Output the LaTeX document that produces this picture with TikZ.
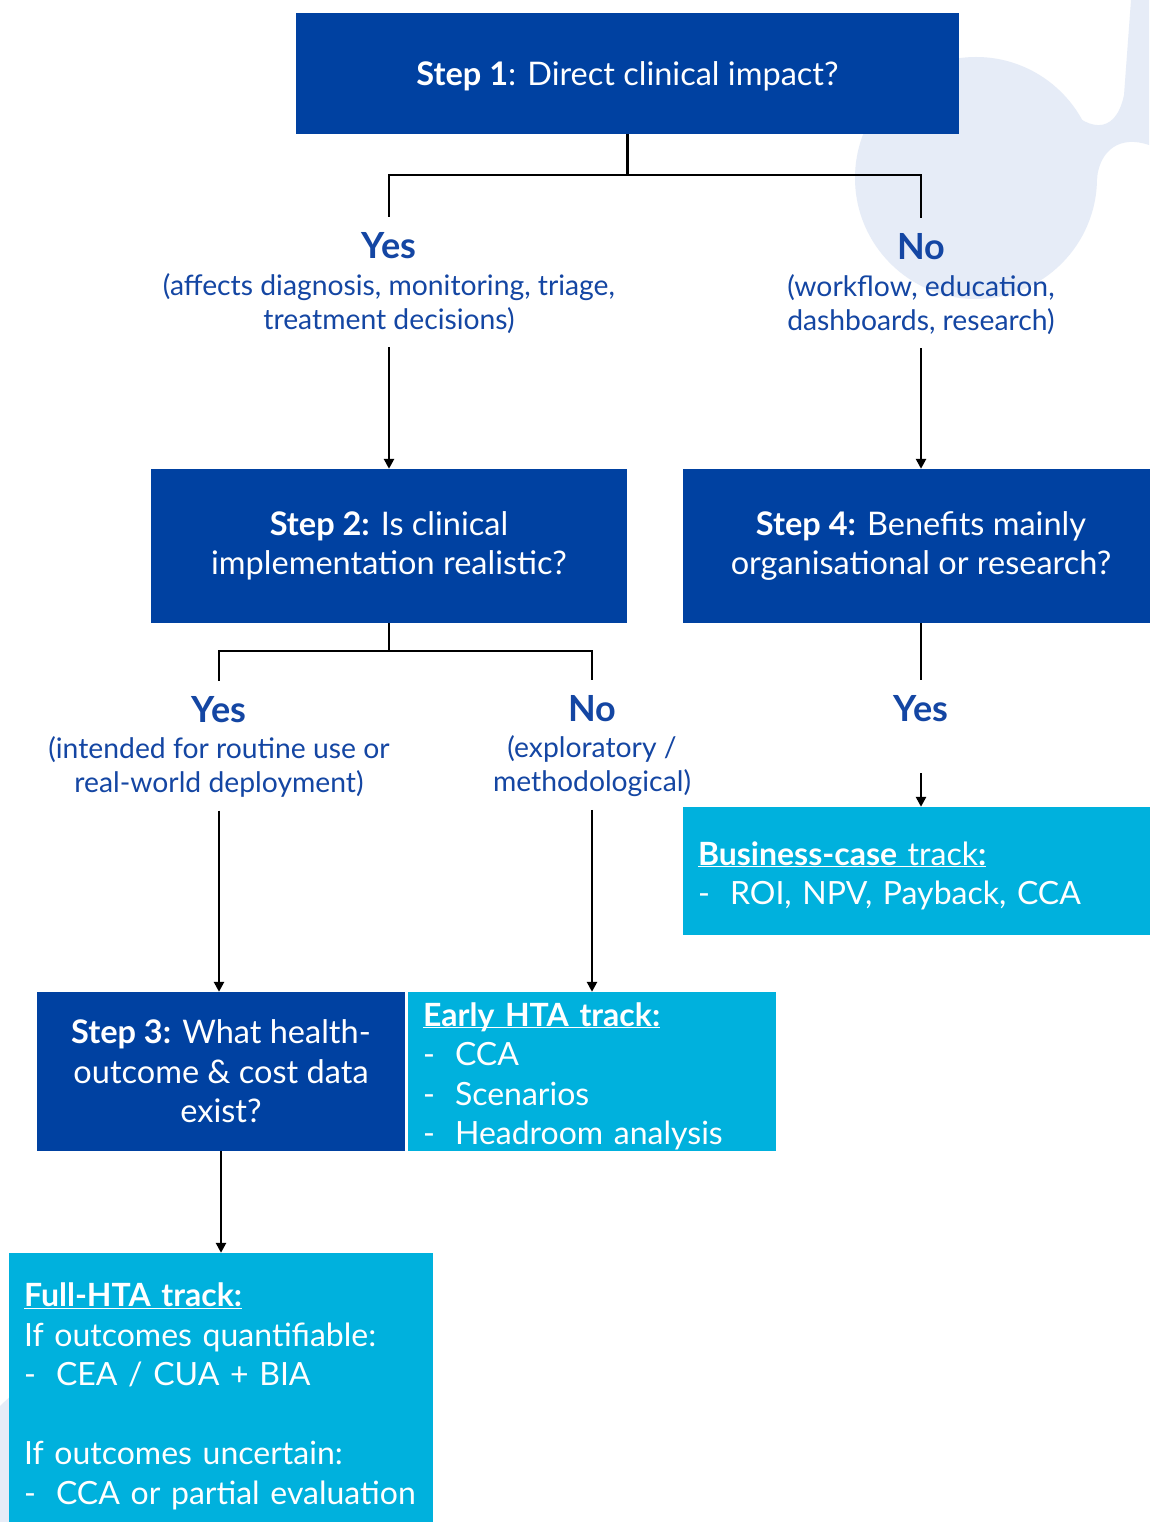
\documentclass[tikz,border=0pt]{standalone}
\usepackage{fontspec}
\setmainfont{Lato}
\usetikzlibrary{arrows.meta}
\definecolor{dblue}{HTML}{0041A1}
\definecolor{lblue}{HTML}{00B1DD}
\definecolor{tblue}{HTML}{1446A3}
\definecolor{bgc}{HTML}{E6ECF7}
\newcommand\myul[1]{\underline{\raisebox{0pt}[\height][0pt]{#1}}}
\newcommand\bul[1]{\makebox[32pt][l]{-}#1}
\newcommand\tallstrut{\rule{0pt}{33pt}}
\begin{document}
\begin{tikzpicture}[x=1pt,y=-1pt,
  dbox/.style={fill=dblue,text=white,align=center,inner sep=0pt,font=\fontsize{32.5}{39.5}\selectfont},
  lbox/.style={fill=lblue,text=white,align=left,inner xsep=15pt,inner ysep=0pt,font=\fontsize{32}{39.5}\selectfont},
  ttl/.style={text=tblue,font=\bfseries\fontsize{36}{40}\selectfont,inner xsep=0pt,inner ysep=16pt},
  dsc/.style={text=tblue,align=center,font=\fontsize{28.3}{34}\selectfont,inner xsep=0pt,inner ysep=13pt},
  ln/.style={line width=2.5pt,black,line join=miter},
  arr/.style={ln,-{Triangle[length=10pt,width=10pt]}}]
\useasboundingbox (0,0) rectangle (1149,1522);
\fill[white] (0,0) rectangle (1149,1522);
% background decoration
\fill[bgc] (976,178) circle (121);
\fill[bgc] (1131,0) -- (1149,0) -- (1149,145) .. controls (1120,135) and (1100,150) .. (1097,178)
  -- (1000,150) -- (1062,102) .. controls (1085,130) and (1115,138) .. (1124,95) -- cycle;
\fill[bgc] (150,1560) circle (215);

% boxes
\node[dbox,minimum width=663pt,minimum height=121pt] (s1) at (627.5,73.5)
  {\rule{0pt}{30pt}\textbf{Step 1}: Direct clinical impact?};
\node[dbox,minimum width=476pt,minimum height=154pt] (s2) at (389,546)
  {\textbf{Step 2:} Is clinical\\implementation realistic?};
\node[dbox,minimum width=476pt,minimum height=154pt] (s4) at (921,546)
  {\textbf{Step 4:} Benefits mainly\\organisational or research?};
\node[dbox,minimum width=368pt,minimum height=159pt] (s3) at (221,1071.5)
  {\textbf{Step 3:} What health-\\outcome \& cost data\\exist?};
\node[lbox,text width=446pt,minimum height=128pt] (bc) at (921,871)
  {\tallstrut\myul{\textbf{Business-case} track\textbf{:}}\\\bul{ROI, NPV, Payback, CCA}};
\node[lbox,text width=338pt,minimum height=159pt] (early) at (592,1071.5)
  {\tallstrut\myul{\textbf{Early HTA track:}}\\\bul{CCA}\\\bul{Scenarios}\\\bul{Headroom analysis}};
\node[lbox,text width=394pt,minimum height=277pt] (full) at (221,1391.5)
  {\tallstrut\myul{\textbf{Full-HTA track:}}\\If outcomes quantifiable:\\\bul{CEA / CUA + BIA}\\[39.5pt]If outcomes uncertain:\\\bul{CCA or partial evaluation}};

% labels
\node[ttl] (yes1) at (389,246) {Yes};
\node[dsc] (yes1d) at (389,304) {(affects diagnosis, monitoring, triage,\\treatment decisions)};
\node[ttl] (no1) at (921,247) {No};
\node[dsc] (no1d) at (921,305) {(workflow, education,\\dashboards, research)};
\node[ttl] (yes2) at (219,710) {Yes};
\node[dsc] (yes2d) at (219,767) {(intended for routine use or\\real-world deployment)};
\node[ttl] (no2) at (592,709) {No};
\node[dsc] (no2d) at (592,766) {(exploratory /\\methodological)};
\node[ttl] (yes3) at (921,709) {Yes};

% connectors
\coordinate (j1) at (627.5,175);
\coordinate (j2) at (389,651);
\coordinate (a4) at (921,773);
\draw[ln] (s1.south) -- (j1);
\draw[ln] (yes1.north) |- (j1) -| (no1.north);
\draw[arr] (yes1d.south) -- (s2.north);
\draw[arr] (no1d.south) -- (s4.north);
\draw[ln] (s2.south) -- (j2);
\draw[ln] (yes2.north) |- (j2) -| (no2.north);
\draw[ln] (s4.south) -- (yes3.north);
\draw[arr] (a4) -- (bc.north);
\draw[arr] (yes2d.south) -- (yes2d.south |- s3.north);
\draw[arr] (no2d.south) -- (early.north);
\draw[arr] (s3.south) -- (full.north);
\end{tikzpicture}
\end{document}
